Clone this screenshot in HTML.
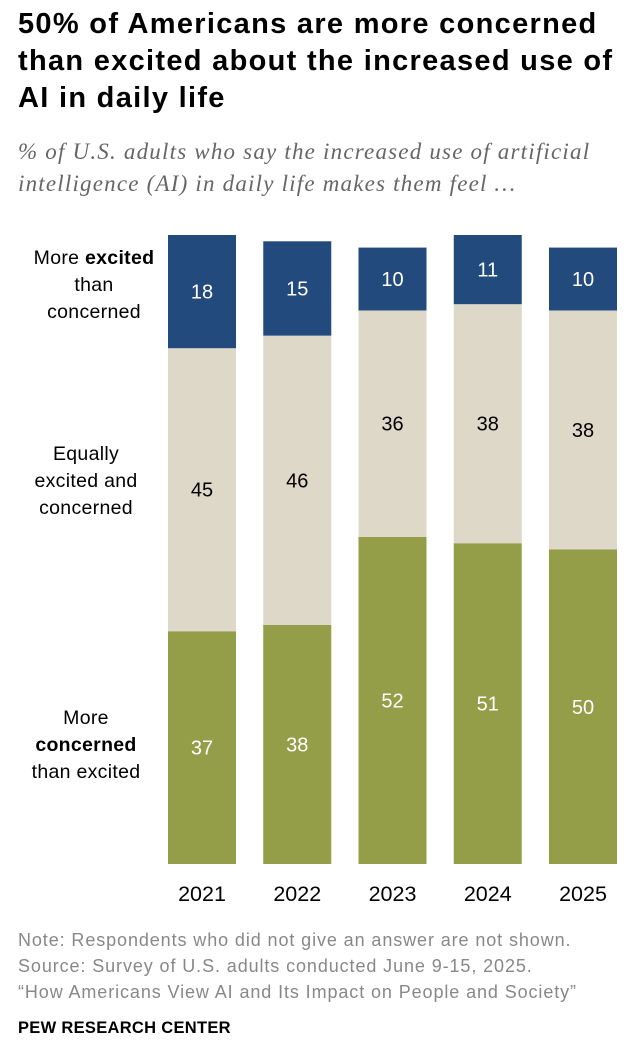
<!DOCTYPE html>
<html><head><meta charset="utf-8"><style>
body{margin:0;width:632px;height:1054px;background:#fff;font-family:"Liberation Sans",sans-serif;position:relative;overflow:hidden}
.t{position:absolute;left:18px;top:6px;width:630px;font-size:29px;letter-spacing:1.3px;font-weight:bold;line-height:37px;color:#000;white-space:nowrap}
.s{position:absolute;left:18px;top:136px;width:630px;font-family:"Liberation Serif",serif;font-style:italic;font-size:23px;letter-spacing:1.2px;line-height:32px;color:#666;white-space:nowrap}
.lab{position:absolute;text-align:center;font-size:19.5px;letter-spacing:0.3px;line-height:27px;color:#000}
.note{position:absolute;left:18px;top:927px;font-size:18px;letter-spacing:0.9px;line-height:26px;color:#888;white-space:nowrap}
.pew{position:absolute;left:18px;top:1019px;font-size:16.5px;letter-spacing:0.3px;font-weight:bold;color:#000}
</style></head><body>
<div class="t">50% of Americans are more concerned<br>than excited about the increased use of<br>AI in daily life</div>
<div class="s">% of U.S. adults who say the increased use of artificial<br>intelligence (AI) in daily life makes them feel …</div>
<div class="lab" style="left:14px;top:245px;width:160px">More <b>excited</b><br>than<br>concerned</div>
<div class="lab" style="left:6px;top:441px;width:160px">Equally<br>excited and<br>concerned</div>
<div class="lab" style="left:6px;top:705px;width:160px">More<br><b>concerned</b><br>than excited</div>
<svg id="chart" width="632" height="1054" style="position:absolute;left:0;top:0"></svg>
<div class="note">Note: Respondents who did not give an answer are not shown.<br>Source: Survey of U.S. adults conducted June 9-15, 2025.<br>“How Americans View AI and Its Impact on People and Society”</div>
<div class="pew">PEW RESEARCH CENTER</div>
<script>
const years=["2021","2022","2023","2024","2025"];
const concerned=[37,38,52,51,50];
const equally=[45,46,36,38,38];
const excited=[18,15,10,11,10];
const svg=document.getElementById('chart');
const NS="http://www.w3.org/2000/svg";
const base=864,unit=6.29,x0=168,step=95.25,bw=68;
const y=v=>base-v*unit;
function rect(x,y1,h,fill,name){const r=document.createElementNS(NS,'rect');r.setAttribute('x',x);r.setAttribute('y',y1);r.setAttribute('width',bw);r.setAttribute('height',h);r.setAttribute('fill',fill);


svg.appendChild(r);}
function txt(x,yy,s,fill,size,name){const t=document.createElementNS(NS,'text');t.setAttribute('x',x);t.setAttribute('y',yy);t.setAttribute('text-anchor','middle');t.setAttribute('font-size',size);t.setAttribute('fill',fill);t.setAttribute('font-family','Liberation Sans, sans-serif');t.textContent=s;


svg.appendChild(t);}
years.forEach((yr,i)=>{
 const x=x0+i*step,cx=x+bw/2;
 const a=concerned[i],b=equally[i],c=excited[i];
 rect(x,y(a),a*unit,'#949d48','bar-concerned-'+yr);
 rect(x,y(a+b),b*unit,'#ddd8c8','bar-equally-'+yr);
 rect(x,y(a+b+c),c*unit,'#234a7c','bar-excited-'+yr);
 txt(cx,(y(0)+y(a))/2+7,a,'#fff',20,'value-concerned-'+yr);
 txt(cx,(y(a)+y(a+b))/2+7,b,'#000',20,'value-equally-'+yr);
 txt(cx,(y(a+b)+y(a+b+c))/2+7,c,'#fff',20,'value-excited-'+yr);
 txt(cx,901,yr,'#000',21.5,'x-label-'+yr);
});
</script>
</body></html>
